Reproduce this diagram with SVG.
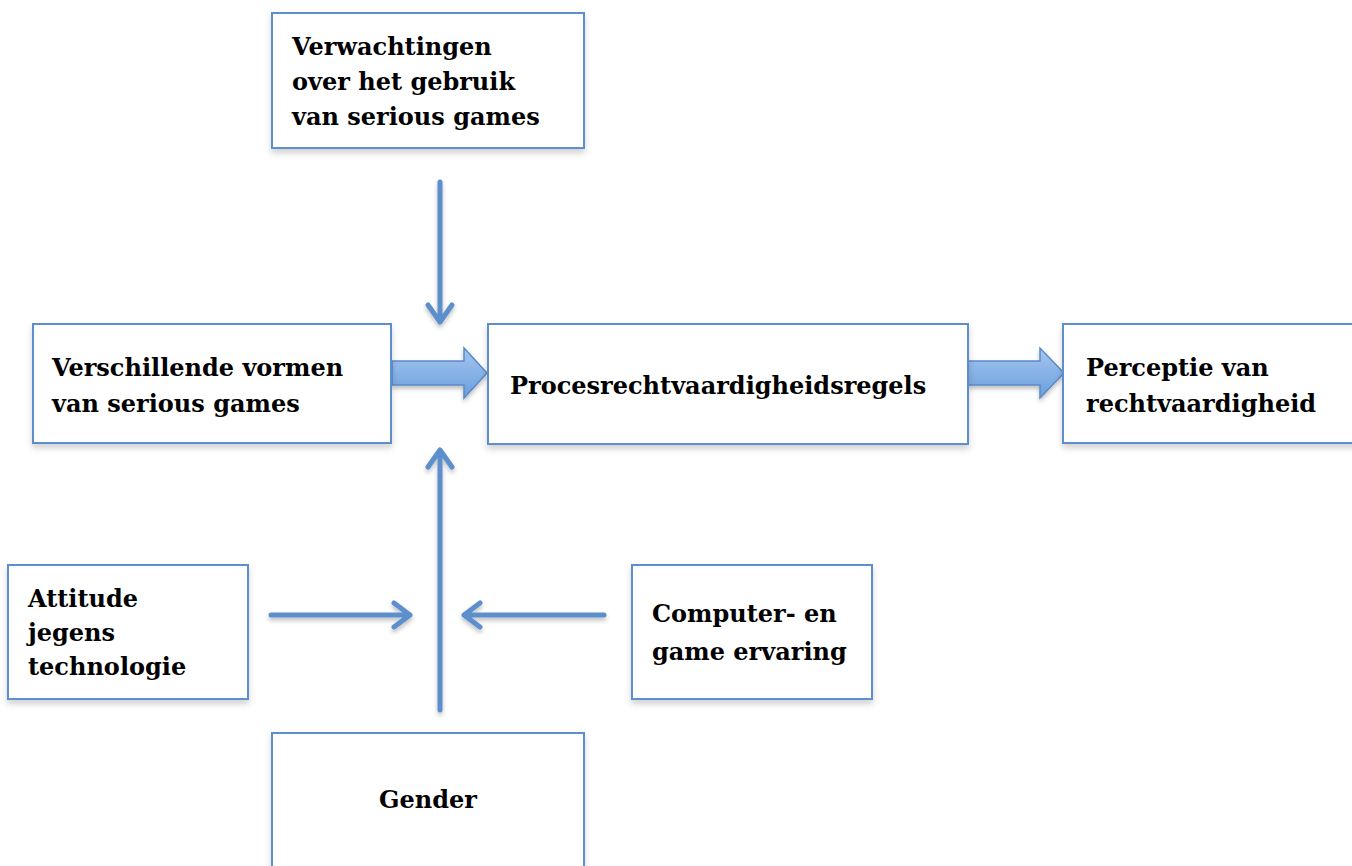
<svg xmlns="http://www.w3.org/2000/svg" width="1352" height="866" viewBox="0 0 1352 866">
<style>
.box{fill:#fff;stroke:#5b8fcb;stroke-width:2;filter:url(#sh)}
.t{font-family:"DejaVu Serif","Liberation Serif",serif;font-weight:bold;font-size:24px;fill:#000}
.ln{stroke:#5b8fcb;stroke-width:5;fill:none;stroke-linecap:round;stroke-linejoin:round;filter:url(#sh2)}
.blk{fill:url(#g);stroke:#5b8ac9;stroke-width:1.5;filter:url(#sh2)}
</style>
<defs>
<filter id="sh" x="-10%" y="-10%" width="130%" height="140%"><feDropShadow dx="0" dy="4" stdDeviation="3" flood-color="#000" flood-opacity="0.18"/></filter>
<filter id="sh2" x="-20%" y="-20%" width="150%" height="150%"><feDropShadow dx="0" dy="3" stdDeviation="2" flood-color="#000" flood-opacity="0.25"/></filter>
<linearGradient id="g" x1="0" y1="0" x2="0" y2="1"><stop offset="0" stop-color="#a5c6f0"/><stop offset="1" stop-color="#6a9edc"/></linearGradient>
</defs>
<g id="connectors">
<path class="ln" d="M440 182 V322 M428 305 L440 322 L452 305"/>
<path class="ln" d="M440 710 V450 M428 467 L440 450 L452 467"/>
<path class="ln" d="M271 615 H410 M394 603 L410 615 L394 627"/>
<path class="ln" d="M604 615 H464 M480 603 L464 615 L480 627"/>
<path class="blk" d="M392 361 H464 V348 L487 373 L464 398 V385 H392 Z"/>
<path class="blk" d="M968 361 H1040 V348 L1064 373 L1040 398 V385 H968 Z"/>
</g>
<g id="n1"><rect class="box" x="272" y="13" width="312" height="135"/>
<text class="t" x="292" y="55">Verwachtingen</text><text class="t" x="292" y="90">over het gebruik</text><text class="t" x="292" y="125">van serious games</text></g>
<g id="n2"><rect class="box" x="33" y="324" width="358" height="119"/>
<text class="t" x="52" y="376">Verschillende vormen</text><text class="t" x="52" y="412">van serious games</text></g>
<g id="n3"><rect class="box" x="488" y="324" width="480" height="120"/>
<text class="t" x="510" y="394">Procesrechtvaardigheidsregels</text></g>
<g id="n4"><rect class="box" x="1063" y="324" width="295" height="119"/>
<text class="t" x="1086" y="376">Perceptie van</text><text class="t" x="1086" y="412">rechtvaardigheid</text></g>
<g id="n5"><rect class="box" x="8" y="565" width="240" height="134"/>
<text class="t" x="28" y="607">Attitude</text><text class="t" x="28" y="641">jegens</text><text class="t" x="28" y="675">technologie</text></g>
<g id="n6"><rect class="box" x="632" y="565" width="240" height="134"/>
<text class="t" x="652" y="622">Computer- en</text><text class="t" x="652" y="660">game ervaring</text></g>
<g id="n7"><rect class="box" x="272" y="733" width="312" height="140"/>
<text class="t" x="379" y="808">Gender</text></g>
</svg>
